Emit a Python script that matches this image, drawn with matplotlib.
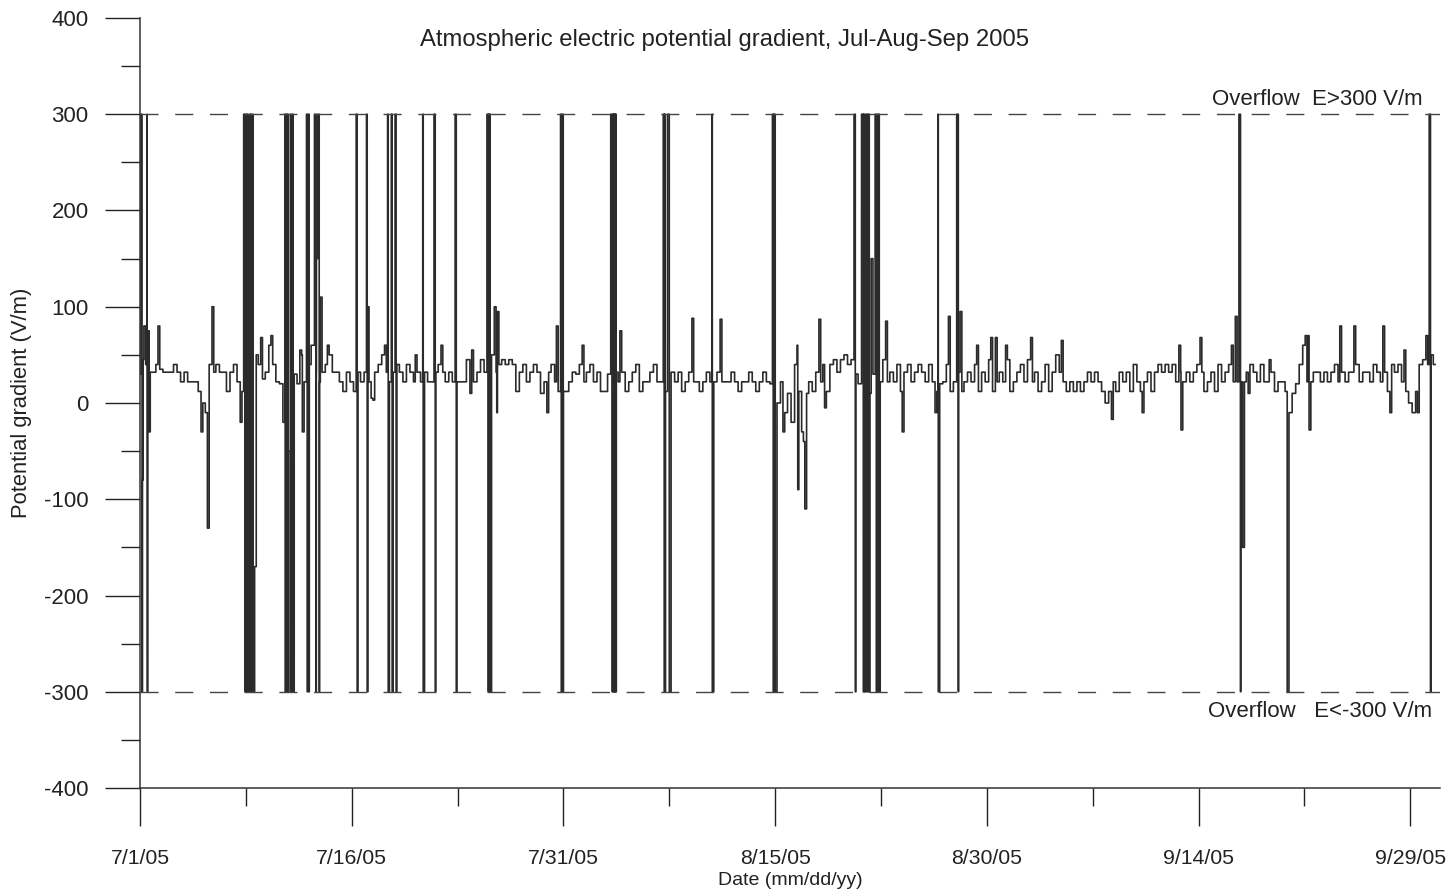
import matplotlib
matplotlib.use("Agg")
import matplotlib.pyplot as plt
import numpy as np

plt.rcParams['font.family'] = ['Liberation Sans', 'DejaVu Sans']
plt.rcParams['axes.unicode_minus'] = False

# baseline potential gradient (V/m), 4 readings per day starting 7/1/05 00:00
pg_baseline = [
    30, 45, 40, 32,   32, 40, 35, 32,   32, 32, 40, 32,   22, 32, 22, 22,   # 7/1 - 7/4
    22, 12, 0, -10,   40, 32, 40, 32,   32, 12, 32, 40,   22, 12, 20, 30,   # 7/5 - 7/8
    30, 50, 40, 25,   32, 60, 40, 22,   20, -20, 40, 10,  30, 20, 50, 22,   # 7/9 - 7/12
    40, 60, 32, 22,   32, 40, 50, 32,   32, 22, 12, 32,   22, 12, 32, 22,   # 7/13 - 7/16
    32, 22, 5, 32,    40, 50, 32, 22,   32, 40, 32, 22,   40, 32, 22, 32,   # 7/17 - 7/20
    22, 32, 22, 22,   32, 40, 32, 22,   32, 22, 22, 22,   22, 45, 10, 22,   # 7/21 - 7/24
    32, 45, 32, 40,   50, 32, 40, 45,   40, 45, 40, 12,   32, 40, 22, 32,   # 7/25 - 7/28
    40, 32, 10, 22,   32, 40, 22, 12,   12, 12, 22, 32,   30, 40, 22, 32,   # 7/29 - 8/1
    40, 22, 32, 12,   12, 30, 40, 32,   22, 32, 12, 22,   32, 40, 12, 22,   # 8/2 - 8/5
    22, 32, 40, 22,   22, 12, 22, 32,   22, 32, 12, 22,   32, 22, 22, 12,   # 8/6 - 8/9
    22, 32, 22, 22,   32, 22, 22, 22,   32, 22, 12, 22,   22, 32, 22, 12,   # 8/10 - 8/13
    22, 32, 22, 20,   12, 0, 22, -10,   10, -20, 40, 12,  -30, 10, 22, 12,  # 8/14 - 8/17
    32, 22, 40, 12,   40, 45, 32, 45,   50, 40, 45, 30,   20, 40, 30, 10,   # 8/18 - 8/21
    30, 40, 22, 45,   22, 32, 22, 40,   12, 32, 40, 22,   32, 40, 32, 22,   # 8/22 - 8/25
    40, 22, 12, 20,   22, 40, 12, 22,   32, 12, 22, 32,   22, 40, 12, 32,   # 8/26 - 8/29
    22, 45, 12, 22,   32, 22, 45, 12,   22, 32, 40, 22,   45, 22, 32, 12,   # 8/30 - 9/2
    22, 40, 12, 32,   50, 32, 22, 12,   22, 12, 22, 12,   22, 32, 22, 32,   # 9/3 - 9/6
    22, 12, 0, 12,    22, 12, 32, 22,   32, 12, 40, 22,   12, 22, 32, 12,   # 9/7 - 9/10
    32, 40, 32, 40,   32, 40, 22, 32,   22, 32, 22, 32,   40, 32, 12, 22,   # 9/11 - 9/14
    32, 12, 40, 22,   32, 40, 22, 22,   22, 22, 32, 40,   32, 22, 40, 22,   # 9/15 - 9/18
    22, 32, 12, 22,   22, 12, -10, 10,  20, 40, 60, 22,   22, 32, 32, 22,   # 9/19 - 9/22
    32, 22, 32, 40,   22, 32, 22, 32,   32, 40, 22, 32,   32, 22, 40, 32,   # 9/23 - 9/26
    22, 32, 12, 40,   32, 40, 22, 12,   0, -10, 12, 40,   45, 40, 50, 40,   # 9/27 - 9/30
]

# short positive excursions (day since 7/1, V/m)
peak_days = [0.3, 0.6, 1.3, 5.2, 8.6, 9.3, 11.4, 12.5, 12.8, 13.3, 16.2, 17.4,
             19.5, 21.4, 23.5, 25.2, 25.35, 29.5, 31.4, 34.0, 39.2, 41.2, 46.6,
             48.2, 51.85, 52.9, 57.3, 58.2, 59.3, 60.3, 60.7, 61.4, 63.2, 65.3,
             73.7, 75.2, 77.4, 77.7, 80.0, 82.6, 82.75, 85.0, 86.0, 88.1, 89.6, 91.2]
peak_vals = [80, 75, 80, 100, 68, 70, 55, 150, 110, 60, 100, 60,
             50, 60, 55, 100, 95, 80, 60, 75, 88, 87, 60,
             87, 150, 85, 90, 95, 60, 68, 68, 60, 68, 65,
             60, 68, 60, 90, 45, 70, 70, 80, 80, 80, 55, 70]

# negative excursions
dip_days = [0.2, 0.7, 4.4, 4.8, 7.2, 8.22, 10.6, 11.5, 16.5, 25.3, 28.9, 37.5,
            45.6, 46.6, 47.0, 47.2, 48.5, 54.0, 56.4, 68.9, 71.0, 73.75,
            78.24, 78.52, 81.3, 81.5, 82.9, 88.6, 90.5]
dip_vals = [-80, -30, -30, -130, -20, -170, -50, -30, 3, -10, -10, -20,
            -30, -90, -40, -110, -5, -30, -10, -17, -10, -28,
            -150, 10, -300, -10, -28, -10, -10]

# times where the sensor overflowed (+300 then -300)
overflow_days = [0.14, 0.5, 7.44, 7.55, 7.65, 7.8, 7.9, 8.01, 10.28, 10.4, 10.49,
                 10.7, 10.84, 11.84, 11.98, 12.47, 12.69, 15.38, 16.09, 17.58,
                 17.86, 18.14, 20.06, 20.91, 22.4, 24.66, 24.73, 24.8, 29.84,
                 29.98, 33.45, 33.52, 33.59, 33.66, 33.73, 37.14, 37.2, 37.49,
                 40.54, 44.86, 44.93, 45.0, 50.67, 51.24, 51.3, 51.45, 51.55,
                 51.66, 52.16, 52.25, 52.37, 56.55, 57.97, 77.96, 91.42]

date_ticks = ['7/1/05', '7/16/05', '7/31/05', '8/15/05', '8/30/05', '9/14/05', '9/29/05']

# assemble the series
t = list(np.arange(len(pg_baseline)) / 4.0) + peak_days + dip_days
v = list(pg_baseline) + peak_vals + dip_vals
for d in overflow_days:
    t += [d, d + 0.01]
    v += [300, -300]
order = np.argsort(t, kind='stable')
t = np.array(t)[order]
v = np.array(v)[order]

fig = plt.figure(figsize=(14.55, 8.96), dpi=100)
ax = fig.add_axes([140 / 1455, 108 / 896, 1300 / 1455, 770 / 896])

ax.plot(t, v, color='#2b2b2b', lw=1.2, drawstyle='steps-mid')
ax.axhline(300, color='#444444', lw=1.0, dashes=(13, 12))
ax.axhline(-300, color='#444444', lw=1.0, dashes=(13, 12))

ax.set_xlim(0, 92.1)
ax.set_ylim(-400, 400)
ax.set_yticks(np.arange(-400, 401, 100))
ax.set_yticks(np.arange(-350, 400, 100), minor=True)
ax.set_xticks(np.arange(0, 91, 15))
ax.set_xticklabels(date_ticks)
ax.set_xticks(np.arange(7.5, 92, 15), minor=True)

ax.spines['top'].set_visible(False)
ax.spines['right'].set_visible(False)
for s in ['left', 'bottom']:
    ax.spines[s].set_color('#333333')
    ax.spines[s].set_linewidth(1.1)

ax.tick_params(axis='y', which='major', length=25, width=1, pad=12, labelsize=16, colors='#222222')
ax.tick_params(axis='y', which='minor', length=14, width=1, colors='#222222')
ax.tick_params(axis='x', which='major', length=27, width=1, pad=17, labelsize=15.3, colors='#222222')
ax.tick_params(axis='x', which='minor', length=13, width=1, colors='#222222')

ax.set_ylabel('Potential gradient (V/m)', fontsize=15.8, color='#222222', va='center')
ax.yaxis.set_label_coords((22 - 140) / 1300, 0.5)
ax.set_xlabel('Date (mm/dd/yy)', fontsize=14, color='#222222', va='center')
ax.xaxis.set_label_coords(0.5, (788 - 880) / 770)

fig.text(725 / 1455, 1 - 40 / 896, 'Atmospheric electric potential gradient, Jul-Aug-Sep 2005',
         ha='center', va='center', fontsize=17.2, color='#222222')
ax.text((1423 - 140) / 1300, 304, 'Overflow  E>300 V/m',
        transform=ax.get_yaxis_transform(), ha='right', va='bottom', fontsize=16, color='#222222')
ax.text((1432 - 140) / 1300, -310, 'Overflow   E<-300 V/m',
        transform=ax.get_yaxis_transform(), ha='right', va='top', fontsize=16, color='#222222')

fig.savefig('out.png', dpi=100)
